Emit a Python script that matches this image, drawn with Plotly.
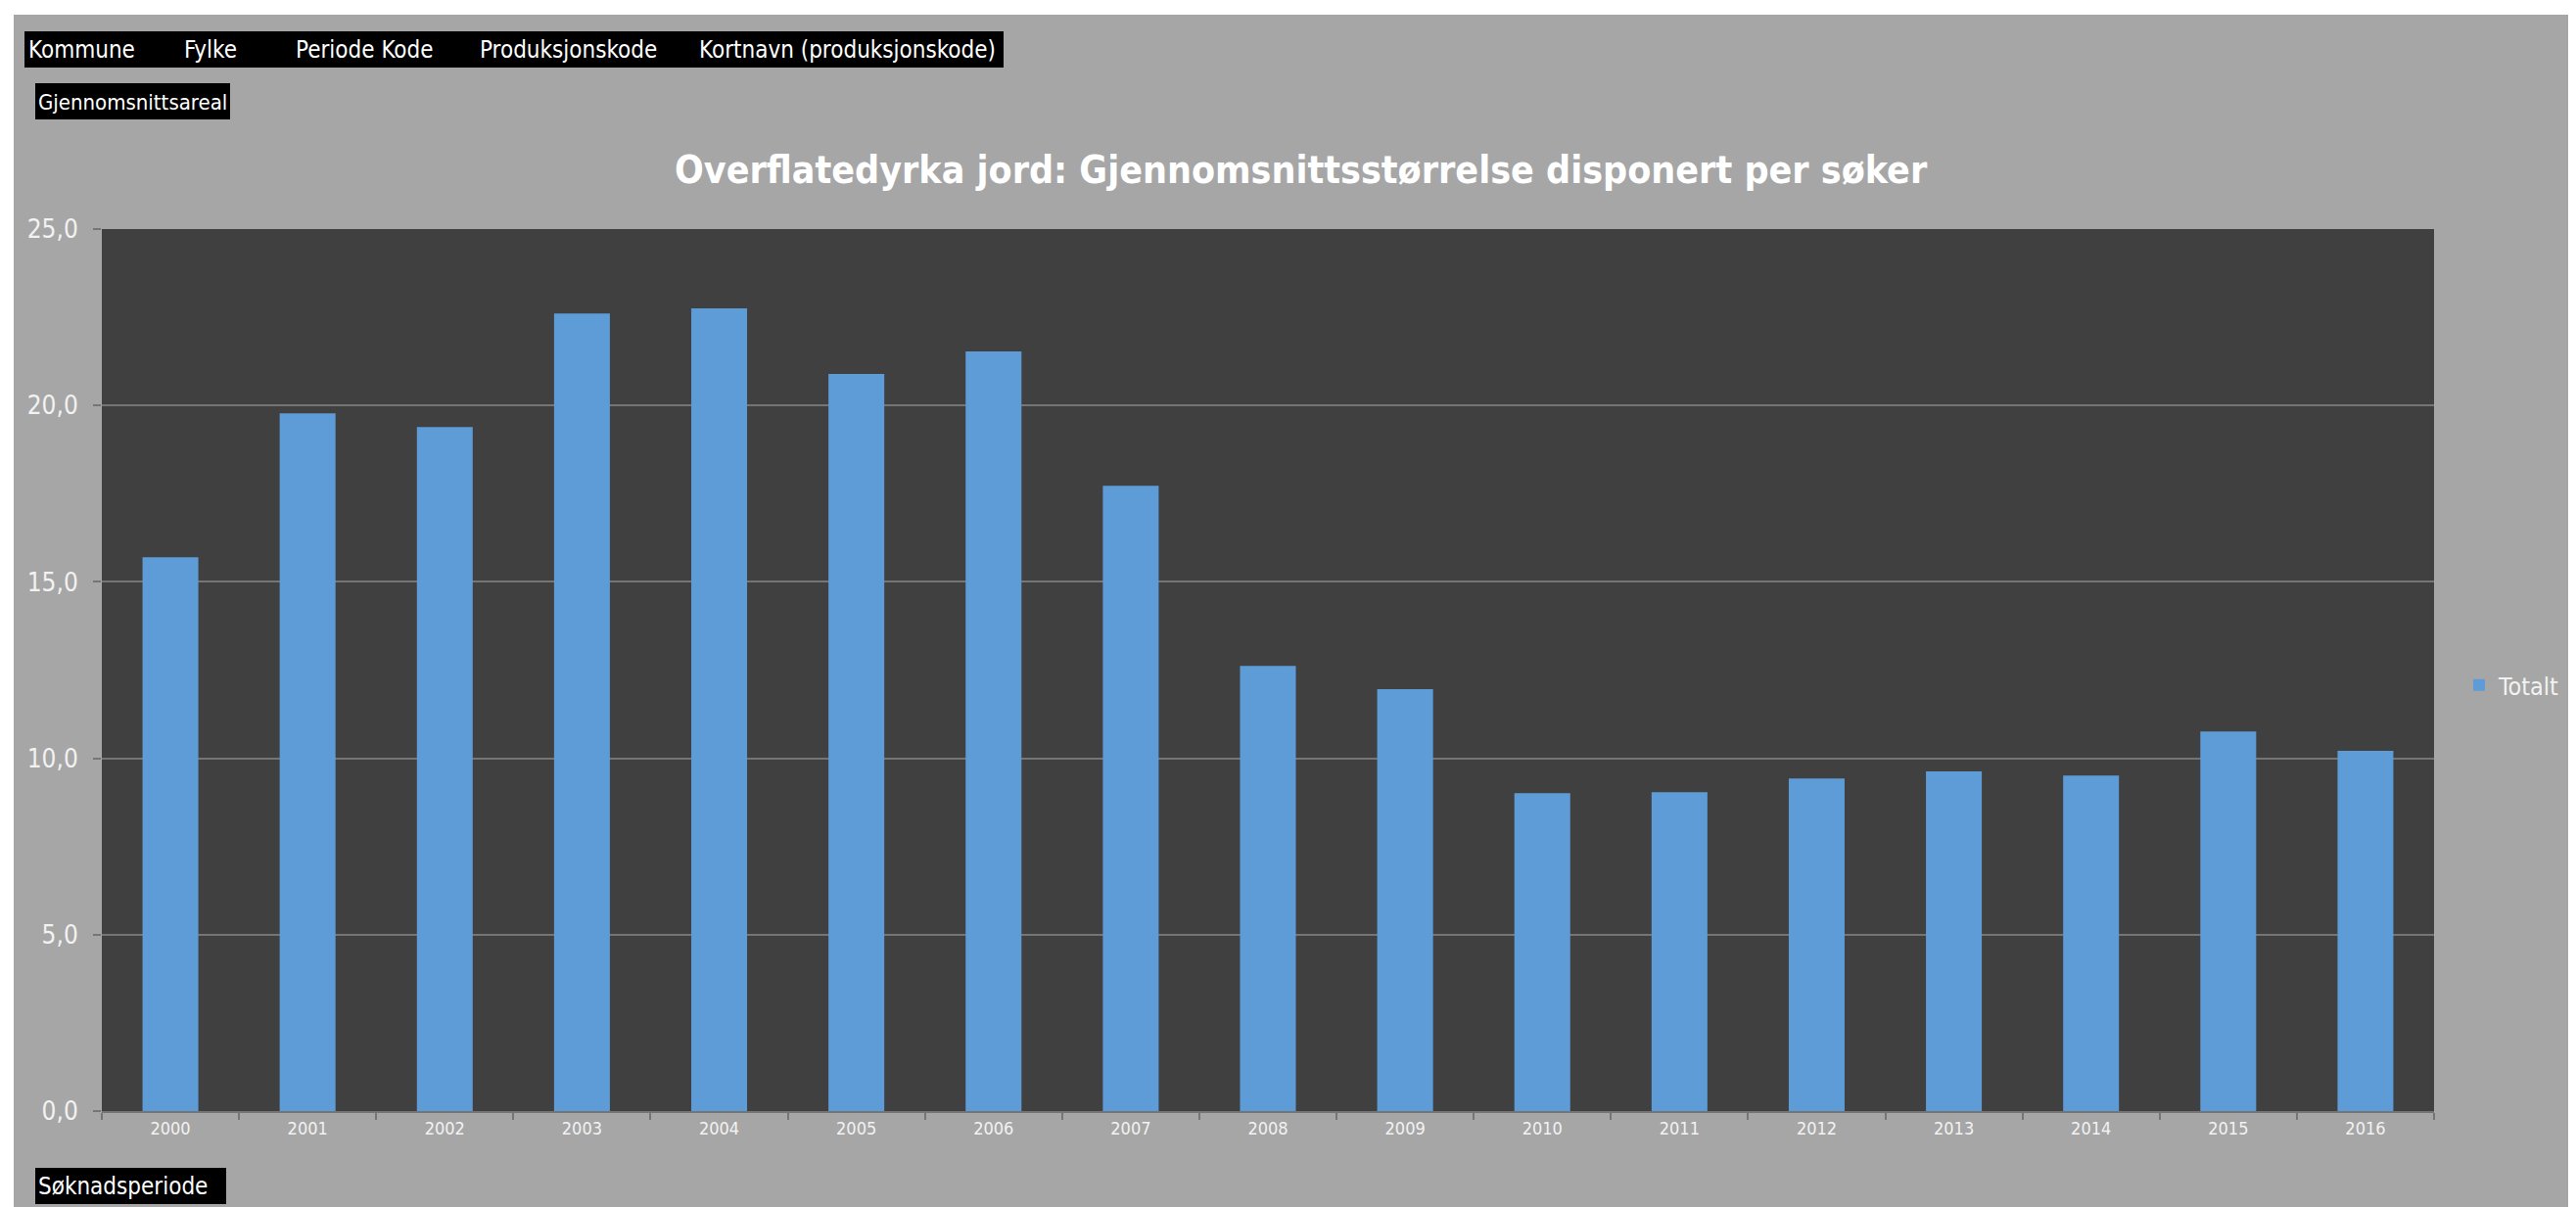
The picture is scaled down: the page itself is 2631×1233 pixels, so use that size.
import plotly.graph_objects as go

years = ["2000", "2001", "2002", "2003", "2004", "2005", "2006", "2007", "2008",
         "2009", "2010", "2011", "2012", "2013", "2014", "2015", "2016"]
totalt = [15.70, 19.78, 19.39, 22.61, 22.75, 20.89, 21.53, 17.72, 12.62,
          11.96, 9.01, 9.04, 9.43, 9.63, 9.51, 10.76, 10.21]
y_ticks = [0, 5, 10, 15, 20, 25]
header_fields = ["Kommune", "Fylke", "Periode Kode", "Produksjonskode", "Kortnavn (produksjonskode)"]
title_text = "Overflatedyrka jord: Gjennomsnittsstørrelse disponert per søker"
value_field = "Gjennomsnittsareal"
axis_field = "Søknadsperiode"
series_name = "Totalt"

OFF = 8  # default page body margin
SW, SH = 2631, 1233
W, H = SW - OFF, SH - OFF
# plot area in screen pixels: x 104..2486, y 234..1135
L, R, T, B = 104 - OFF, SW - 2486, 234 - OFF, SH - 1135
PW, PH = W - L - R, H - T - B

FONT = "Liberation Sans Narrow, DejaVu Sans Condensed, sans-serif"
BG = "#a6a6a6"
PLOT_BG = "#404040"
GRID = "#757575"
TXT = "#f2f2f2"


def px(sx):
    return (sx - OFF - L) / PW


def py(sy):
    return (H - B - (sy - OFF)) / PH


fig = go.Figure()
fig.add_trace(go.Bar(
    x=years, y=totalt, name=series_name,
    marker=dict(color="#5d9cd6", line=dict(width=0)),
    showlegend=True,
))

shapes = []
annotations = []

# white strips at the top and left edges (screen 15 px / 14 px)
shapes.append(dict(type="rect", xref="paper", yref="paper", x0=px(0), x1=px(SW + 10), y0=py(-10), y1=py(15),
                   fillcolor="white", line=dict(width=0), layer="above"))
shapes.append(dict(type="rect", xref="paper", yref="paper", x0=px(-10), x1=px(14), y0=py(-10), y1=py(SH + 10),
                   fillcolor="white", line=dict(width=0), layer="above"))

# header field buttons (single black strip)
shapes.append(dict(type="rect", xref="paper", yref="paper", x0=px(25), x1=px(1025), y0=py(32), y1=py(69),
                   fillcolor="black", line=dict(width=0), layer="above"))
header_x = [27, 186, 300, 488, 712]
for name, hx in zip(header_fields, header_x):
    annotations.append(dict(text=name, xref="paper", yref="paper", x=px(hx), y=py(51),
                            xanchor="left", yanchor="middle", showarrow=False,
                            font=dict(family=FONT, size=24, color="white")))

# value field button
shapes.append(dict(type="rect", xref="paper", yref="paper", x0=px(36), x1=px(235), y0=py(85), y1=py(122),
                   fillcolor="black", line=dict(width=0), layer="above"))
annotations.append(dict(text=value_field, xref="paper", yref="paper", x=px(37), y=py(104),
                        xanchor="left", yanchor="middle", showarrow=False,
                        font=dict(family=FONT, size=22, color="white")))

# axis field button
shapes.append(dict(type="rect", xref="paper", yref="paper", x0=px(36), x1=px(231), y0=py(1193), y1=py(1230),
                   fillcolor="black", line=dict(width=0), layer="above"))
annotations.append(dict(text=axis_field, xref="paper", yref="paper", x=px(37), y=py(1212),
                        xanchor="left", yanchor="middle", showarrow=False,
                        font=dict(family=FONT, size=24, color="white")))

# title
annotations.append(dict(text="<b>" + title_text + "</b>", xref="paper", yref="paper",
                        x=px(1329), y=py(173), xanchor="center", yanchor="middle", showarrow=False,
                        font=dict(family=FONT, size=39, color="white")))

fig.update_layout(
    width=W, height=H,
    margin=dict(l=L, r=R, t=T, b=B, pad=0, autoexpand=False),
    paper_bgcolor=BG, plot_bgcolor=PLOT_BG,
    separators=", ",
    bargap=0.593,
    font=dict(family=FONT, color=TXT),
    xaxis=dict(type="category", tickson="boundaries", ticks="outside", ticklen=7, tickcolor=GRID,
               tickwidth=1.5, showline=True, linecolor=GRID, linewidth=2, showgrid=False,
               tickfont=dict(family=FONT, size=18, color=TXT), automargin=False),
    yaxis=dict(range=[0, 25], tickvals=y_ticks, tickformat=".1f", ticks="outside", ticklen=8,
               tickcolor=GRID, tickwidth=2, showgrid=True, gridcolor=GRID, gridwidth=2,
               zeroline=False, showline=False, ticklabelstandoff=10, automargin=False,
               tickfont=dict(family=FONT, size=26, color=TXT)),
    legend=dict(x=px(2512), y=py(700), xanchor="left", yanchor="middle", bgcolor="rgba(0,0,0,0)",
                font=dict(family=FONT, size=25, color=TXT), itemwidth=30),
    shapes=shapes, annotations=annotations,
)

fig.write_html("out.html")
